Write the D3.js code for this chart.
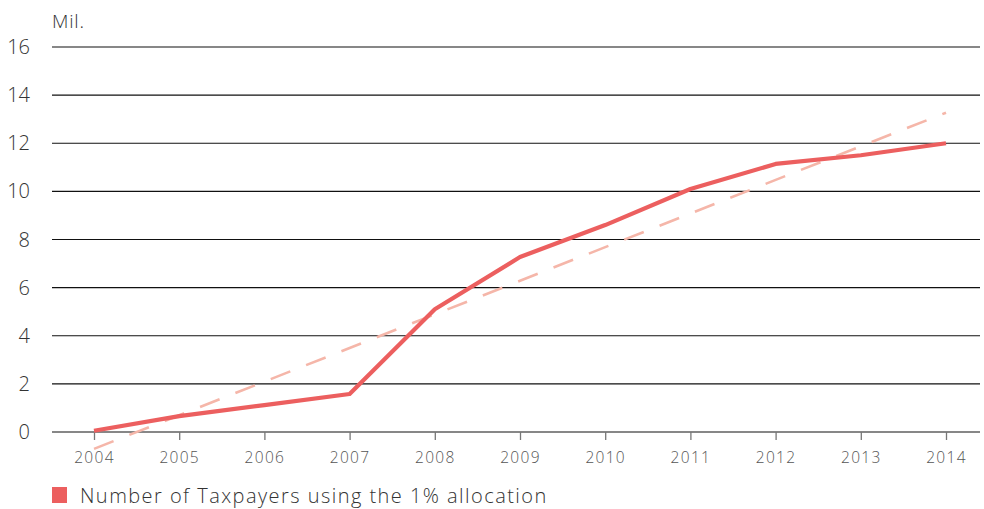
<!DOCTYPE html>
<html><head><meta charset="utf-8">
<script src="https://cdn.jsdelivr.net/npm/d3@7/dist/d3.min.js"></script>
<style>
body{margin:0;background:#fff;}
text{font-family:"Open Sans","Lato",sans-serif;}
</style></head>
<body><svg id="c" width="984" height="509"></svg>
<script>
const years = ["2004","2005","2006","2007","2008","2009","2010","2011","2012","2013","2014"];
const taxpayers = [0.05,0.66,1.12,1.58,5.1,7.27,8.6,10.1,11.14,11.5,12.0];
const trendYears = ["2004","2014"];
const trendValues = [-0.7,13.27];
const yTicks = [0,2,4,6,8,10,12,14,16];
const unitLabel = "Mil.";
const legendLabel = "Number of Taxpayers using the 1% allocation";

const svg = d3.select("#c");
const x = d3.scalePoint().domain(years).range([94,946]);
const y = d3.scaleLinear().domain([0,16]).range([432,47]);

// gridlines
svg.append("g").selectAll("line").data(yTicks).join("line")
  .attr("x1",52).attr("x2",980)
  .attr("y1",d=>y(d)).attr("y2",d=>y(d))
  .attr("stroke","#111").attr("stroke-width",1.1);

// y labels
svg.append("g").selectAll("text").data(yTicks).join("text")
  .attr("x",30).attr("y",d=>y(d)+7)
  .attr("text-anchor","end").attr("font-size",20).attr("font-weight",300)
  .attr("fill","#333").text(d=>d);

svg.append("text").attr("x",52).attr("y",28).attr("font-size",19).attr("font-weight",300)
  .attr("letter-spacing",0.8).attr("fill","#333").text(unitLabel);

// x axis
const xAxis = d3.axisBottom(x).tickSize(8).tickPadding(12);
const gx = svg.append("g").attr("transform",`translate(0,${y(0)})`).call(xAxis);
gx.select(".domain").remove();
gx.selectAll(".tick line").attr("stroke","#777").attr("stroke-width",1.3);
gx.selectAll(".tick text").attr("font-size",15.5).attr("fill","#555").attr("font-weight",300)
  .attr("letter-spacing",1.3)
  .attr("font-family","'Open Sans', Lato, sans-serif");

// trend line
const trend = trendYears.map((t,i)=>({t,v:trendValues[i]}));
svg.append("path").datum(trend)
  .attr("d",d3.line().x(d=>x(d.t)).y(d=>y(d.v)))
  .attr("fill","none").attr("stroke","#f5b6a9").attr("stroke-width",2.6)
  .attr("stroke-dasharray","21,17");

// main line
const data = years.map((t,i)=>({t,v:taxpayers[i]}));
svg.append("path").datum(data)
  .attr("d",d3.line().x(d=>x(d.t)).y(d=>y(d.v)))
  .attr("fill","none").attr("stroke","#ec5f5f").attr("stroke-width",4.2)
  .attr("stroke-linejoin","round");

// legend
svg.append("rect").attr("x",52).attr("y",487).attr("width",15).attr("height",16).attr("fill","#ec5f5f");
svg.append("text").attr("x",80).attr("y",503).attr("font-size",20).attr("font-weight",300)
  .attr("letter-spacing",1.45).attr("fill","#333").text(legendLabel);
</script></body></html>
